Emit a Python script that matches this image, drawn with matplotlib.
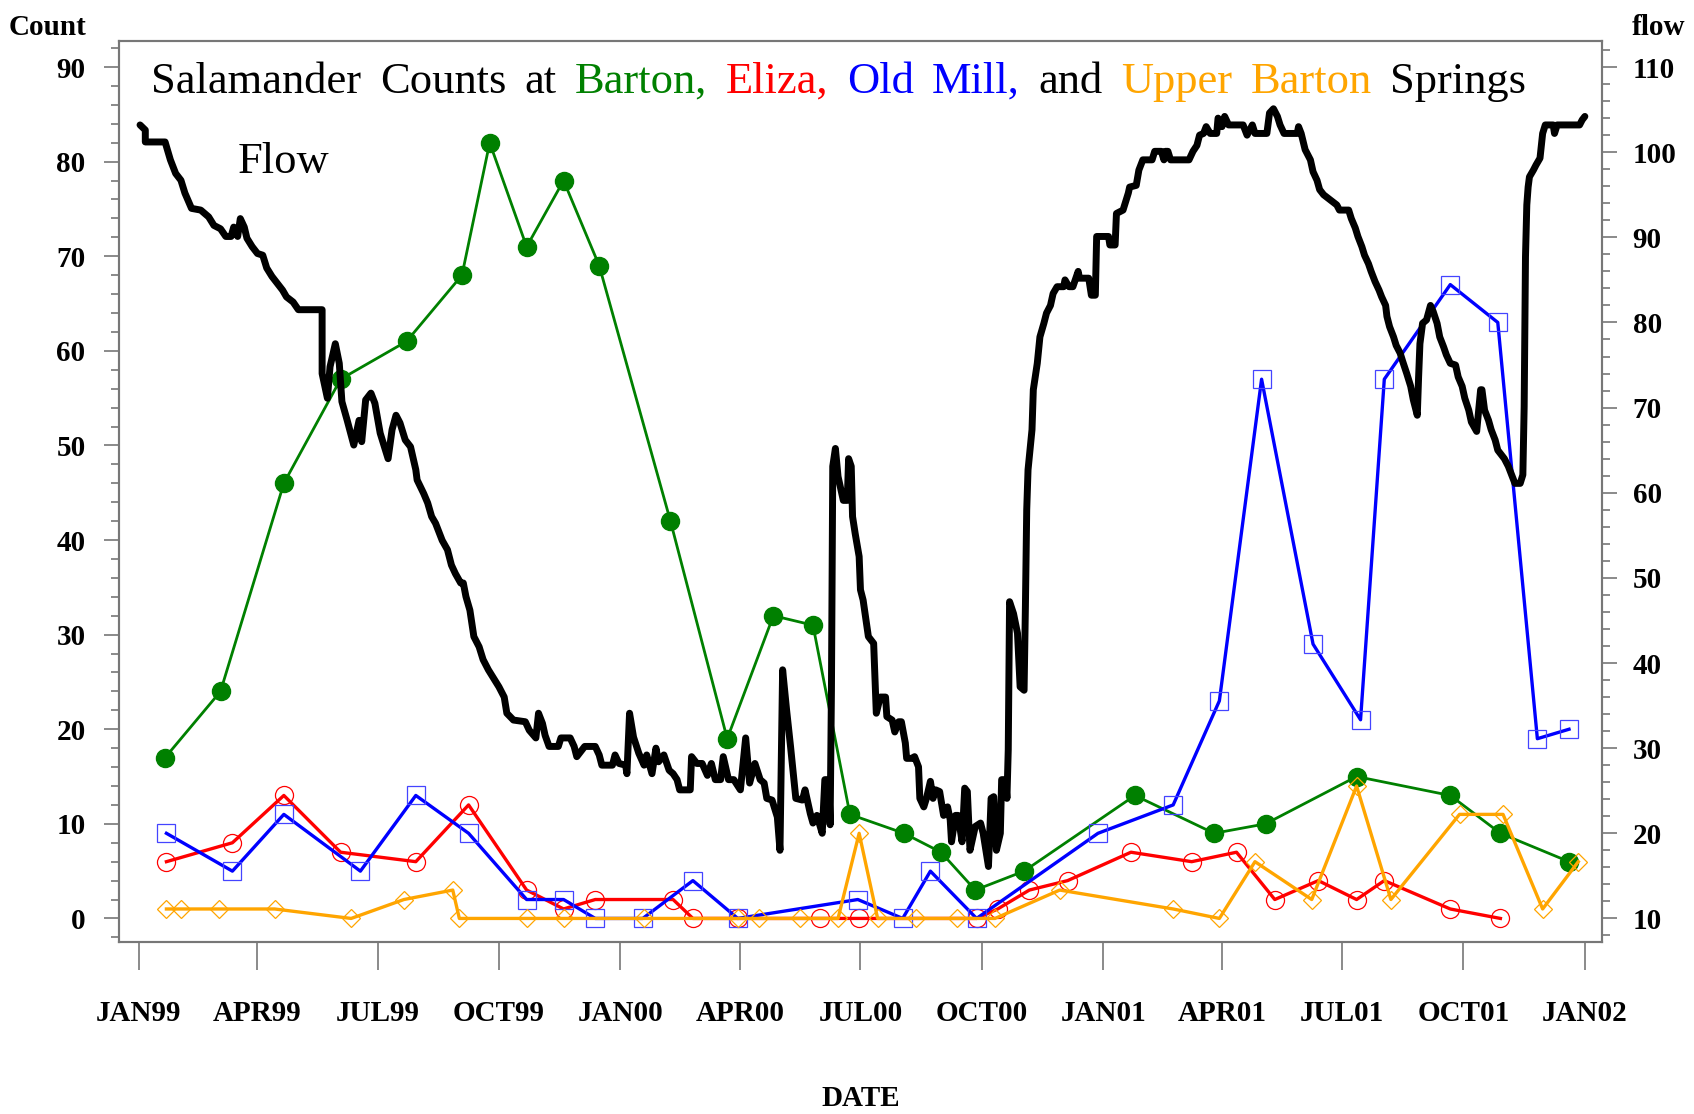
# Salamander counts at four springs with spring flow on a second axis

import matplotlib
matplotlib.use('Agg')
import matplotlib.pyplot as plt
import matplotlib.dates as mdates
from matplotlib.ticker import MultipleLocator, FuncFormatter
import pandas as pd

plt.rcParams['font.family'] = ['Liberation Serif', 'DejaVu Serif']

start = pd.Timestamp('1999-01-01')   # days below count from this date

# Barton Springs (green, filled circles)
barton_day = [20, 62, 110, 153, 203, 245, 266, 294, 322, 349, 403, 446, 481,
              511, 539, 580, 608, 634, 671, 755, 815, 854, 923, 994, 1032, 1084]
barton = [17, 24, 46, 57, 61, 68, 82, 71, 78, 69, 42, 19, 32,
          31, 11, 9, 7, 3, 5, 13, 9, 10, 15, 13, 9, 6]

# Eliza Spring (red, open circles)
eliza_day = [21, 71, 110, 153, 210, 250, 294, 322, 346, 405, 420, 454, 516, 546,
             635, 651, 675, 704, 752, 798, 832, 861, 894, 923, 944, 994, 1032]
eliza = [6, 8, 13, 7, 6, 12, 3, 1, 2, 2, 0, 0, 0, 0,
         0, 1, 3, 4, 7, 6, 7, 2, 4, 2, 4, 1, 0]

# Old Mill Spring (blue, open squares)
oldmill_day = [21, 71, 110, 168, 210, 250, 294, 322, 346, 382, 420, 454, 545, 579,
               600, 635, 727, 784, 819, 851, 890, 926, 944, 994, 1030, 1060, 1084]
oldmill = [9, 5, 11, 5, 13, 9, 2, 2, 0, 0, 4, 0, 2, 0,
           5, 0, 9, 12, 23, 57, 29, 21, 57, 67, 63, 19, 20]

# Upper Barton Spring (orange, open diamonds)
upper_day = [21, 32, 61, 103, 161, 201, 238, 243, 294, 322, 383, 454, 470, 501, 530, 546,
             560, 589, 620, 649, 698, 784, 819, 846, 889, 923, 949, 1001, 1034, 1064, 1091]
upper = [1, 1, 1, 1, 0, 2, 3, 0, 0, 0, 0, 0, 0, 0, 0, 9,
         0, 0, 0, 0, 3, 1, 0, 6, 2, 14, 2, 11, 11, 1, 6]

# flow readings (day, flow)
flow = [(1, 103.2), (5, 102.6), (5, 101.2), (20, 101.2), (24, 99.1), (28, 97.5), (32, 96.7),
        (35, 95.2), (40, 93.4), (47, 93.2), (53, 92.4), (57, 91.4), (62, 91.0), (66, 90.1),
        (70, 90.1), (72, 91.2), (75, 90.1), (77, 92.2), (80, 91.2), (82, 89.9), (86, 88.9),
        (90, 88.1), (94, 87.9), (97, 86.4), (101, 85.4), (105, 84.6), (109, 83.8), (112, 83.0),
        (117, 82.4), (121, 81.5), (139, 81.5), (139, 74.0), (143, 71.1), (145, 74.8), (149, 77.5),
        (152, 75.2), (154, 70.7), (158, 68.5), (163, 65.6), (167, 68.5), (169, 66.0), (172, 70.9),
        (176, 71.7), (179, 70.5), (183, 67.0), (189, 64.0), (192, 67.4), (195, 69.1), (198, 68.2),
        (202, 66.2), (206, 65.4), (210, 62.7), (211, 61.5), (216, 59.9), (219, 58.8), (222, 57.2),
        (225, 56.4), (230, 54.4), (234, 53.3), (237, 51.5), (240, 50.5), (244, 49.4), (246, 49.4),
        (248, 47.8), (251, 46.2), (254, 43.1), (258, 41.9), (261, 40.4), (265, 39.2), (269, 38.2),
        (273, 37.2), (277, 36.0), (279, 34.1), (284, 33.3), (293, 33.1), (296, 32.1), (301, 31.2),
        (303, 34.1), (306, 32.9), (308, 31.5), (311, 30.2), (318, 30.2), (320, 31.2), (327, 31.2),
        (330, 30.2), (332, 29.0), (338, 30.2), (346, 30.2), (349, 29.2), (351, 28.0), (359, 28.0),
        (361, 29.2), (364, 28.2), (369, 28.0), (370, 27.0), (372, 34.1), (375, 31.3), (379, 29.4),
        (383, 28.0), (385, 29.2), (389, 27.0), (392, 30.0), (394, 28.4), (398, 29.2), (402, 27.4),
        (405, 27.0), (408, 26.3), (410, 25.1), (418, 25.1), (419, 29.0), (423, 28.2), (427, 28.2),
        (431, 26.8), (434, 28.2), (437, 26.3), (441, 26.3), (443, 29.0), (447, 26.3), (451, 26.3),
        (456, 25.1), (460, 31.2), (463, 25.9), (467, 28.2), (471, 26.3), (474, 25.9), (476, 24.1),
        (480, 23.9), (484, 21.9), (486, 18.0), (488, 39.2), (491, 34.5), (494, 30.2), (498, 24.1),
        (503, 23.9), (505, 25.1), (509, 22.3), (511, 21.2), (514, 22.1), (518, 20.0), (520, 26.3),
        (523, 26.3), (524, 21.0), (525, 36.8), (526, 63.1), (528, 65.2), (530, 61.9), (534, 59.1),
        (537, 59.1), (538, 64.0), (540, 63.1), (541, 57.2), (543, 55.2), (546, 52.5), (547, 48.6),
        (549, 47.4), (553, 43.1), (557, 42.3), (559, 34.1), (562, 36.0), (566, 36.0), (567, 33.7),
        (571, 33.3), (573, 31.9), (576, 33.1), (578, 33.1), (581, 30.6), (582, 28.8), (586, 28.8),
        (588, 29.0), (591, 27.8), (592, 24.1), (595, 23.1), (597, 24.1), (600, 26.1), (602, 24.1),
        (604, 25.1), (607, 24.9), (610, 22.1), (613, 23.1), (615, 21.6), (616, 19.0), (619, 22.1),
        (621, 22.1), (624, 19.0), (626, 25.3), (628, 24.9), (630, 18.0), (634, 20.8), (638, 21.2),
        (640, 20.0), (644, 16.1), (646, 24.1), (648, 24.3), (650, 18.0), (653, 20.0), (654, 26.3),
        (657, 26.3), (658, 24.1), (659, 29.8), (660, 47.2), (663, 45.8), (666, 43.5), (668, 37.2),
        (671, 36.8), (672, 46.6), (673, 58.0), (674, 62.7), (677, 67.4), (678, 72.1), (681, 75.2),
        (683, 78.3), (686, 79.9), (688, 81.1), (691, 82.0), (693, 83.4), (696, 84.2), (701, 84.2),
        (702, 85.0), (705, 84.2), (708, 84.2), (712, 86.0), (713, 85.2), (720, 85.2), (722, 83.2),
        (725, 83.2), (726, 90.1), (735, 90.1), (736, 89.1), (740, 89.1), (741, 92.8), (746, 93.2),
        (748, 94.2), (750, 95.2), (751, 95.9), (756, 96.1), (758, 97.9), (761, 99.1), (768, 99.1),
        (770, 100.1), (775, 100.1), (777, 99.1), (778, 100.1), (780, 100.1), (782, 99.1),
        (796, 99.1), (799, 100.1), (802, 100.8), (804, 102.0), (807, 102.2), (809, 103.0),
        (812, 102.2), (817, 102.2), (818, 104.0), (821, 103.0), (823, 104.2), (826, 103.2),
        (837, 103.2), (840, 102.0), (844, 103.2), (846, 102.2), (855, 102.2), (857, 104.6),
        (860, 105.1), (863, 104.2), (865, 103.2), (868, 102.2), (878, 102.2), (879, 103.0),
        (881, 102.2), (884, 100.3), (888, 99.1), (890, 97.7), (893, 96.7), (895, 95.6), (898, 95.0),
        (903, 94.4), (908, 93.8), (910, 93.2), (917, 93.2), (919, 92.2), (922, 91.1), (924, 90.1),
        (927, 88.9), (929, 87.9), (932, 86.9), (934, 86.0), (937, 84.8), (940, 83.8), (942, 83.0),
        (945, 82.0), (946, 80.7), (948, 79.5), (951, 78.3), (953, 77.3), (956, 76.4), (958, 75.4),
        (961, 74.0), (964, 72.5), (966, 70.9), (969, 69.1), (970, 73.6), (971, 77.5), (973, 79.9),
        (976, 80.3), (979, 82.0), (981, 81.3), (984, 79.9), (986, 78.3), (989, 77.1), (991, 76.2),
        (994, 75.2), (998, 75.0), (1000, 73.6), (1003, 72.5), (1005, 71.1), (1008, 69.7),
        (1010, 68.3), (1014, 67.2), (1017, 72.1), (1018, 72.1), (1020, 69.7), (1023, 68.5),
        (1025, 67.4), (1028, 66.2), (1030, 65.0), (1033, 64.4), (1035, 64.0), (1038, 63.1),
        (1041, 61.9), (1043, 61.1), (1047, 61.1), (1049, 62.1), (1050, 70.1), (1051, 87.7),
        (1052, 93.8), (1053, 95.9), (1054, 97.1), (1057, 97.9), (1059, 98.5), (1062, 99.3),
        (1063, 100.8), (1064, 102.2), (1066, 103.2), (1072, 103.2), (1073, 102.2), (1075, 103.2),
        (1092, 103.2), (1094, 103.8), (1096, 104.2)]

# title words and their colours
title_words = ['Salamander', 'Counts', 'at', 'Barton,', 'Eliza,', 'Old', 'Mill,',
               'and', 'Upper', 'Barton', 'Springs']
title_colors = ['black', 'black', 'black', 'green', 'red', 'blue', 'blue',
                'black', 'orange', 'orange', 'black']


def to_dates(days):
    return start + pd.to_timedelta(days, unit='D')


fig = plt.figure(figsize=(16.94, 11.14), dpi=100)
ax = fig.add_axes([0.0702, 0.1544, 0.8755, 0.8088])
ax2 = ax.twinx()

ax.plot(to_dates(barton_day), barton, color='green', lw=2, marker='o', ms=13,
        mfc='green', mec='green')
ax.plot(to_dates(eliza_day), eliza, color='red', lw=2.4, marker='o', ms=13,
        mfc='none', mec='red', mew=0.9)
ax.plot(to_dates(oldmill_day), oldmill, color='blue', lw=2.4, marker='s', ms=12.5,
        mfc='none', mec='#4444ff', mew=0.9)
ax.plot(to_dates(upper_day), upper, color='orange', lw=2.4, marker='D', ms=9,
        mfc='none', mec='orange', mew=0.9)

flow_day = [p[0] for p in flow]
flow_cfs = [p[1] for p in flow]
ax2.plot(to_dates(flow_day), flow_cfs, color='black', lw=5,
         solid_joinstyle='round', solid_capstyle='round')

ax.set_xlim(pd.Timestamp('1998-12-17'), pd.Timestamp('2002-01-14'))
ax.set_ylim(-2.49, 92.75)
ax2.set_ylim(7.23, 113.06)

ax.xaxis.set_major_locator(mdates.MonthLocator(bymonth=[1, 4, 7, 10]))
ax.xaxis.set_major_formatter(FuncFormatter(
    lambda v, pos: mdates.num2date(v).strftime('%b%y').upper()))
ax.yaxis.set_major_locator(MultipleLocator(10))
ax.yaxis.set_minor_locator(MultipleLocator(2))
ax2.yaxis.set_major_locator(MultipleLocator(10))
ax2.yaxis.set_minor_locator(MultipleLocator(2))

frame = '#777777'
for a in (ax, ax2):
    for s in a.spines.values():
        s.set_color(frame)
        s.set_linewidth(1.5)

ax.tick_params(axis='x', length=20, width=1.2, color=frame, pad=22,
               labelsize=21)
ax.tick_params(axis='y', which='major', length=11, width=1.2, color=frame,
               pad=13, labelsize=21)
ax.tick_params(axis='y', which='minor', length=6, width=1.2, color=frame)
ax2.tick_params(axis='y', which='major', length=11, width=1.2, color=frame,
                pad=11, labelsize=21)
ax2.tick_params(axis='y', which='minor', length=6, width=1.2, color=frame)
for lab in ax.get_xticklabels() + ax.get_yticklabels() + ax2.get_yticklabels():
    lab.set_fontweight('bold')

# title: words laid side by side, each in its own colour
renderer = fig.canvas.get_renderer()
ax_w = ax.get_window_extent(renderer).width
x = 0.0219
gap = 0.0124
for word, col in zip(title_words, title_colors):
    t = ax.text(x, 0.9424, word, color=col, fontsize=32, ha='left',
                va='baseline', transform=ax.transAxes)
    x += t.get_window_extent(renderer).width / ax_w + gap

ax.text(0.1107, 0.8537, 'Flow', fontsize=32, ha='center', va='baseline',
        transform=ax.transAxes)

fig.text(0.0051, 0.969, 'Count', fontsize=21, fontweight='bold', ha='left',
         va='baseline')
fig.text(0.9948, 0.969, 'flow', fontsize=21, fontweight='bold', ha='right',
         va='baseline')
fig.text(0.508, 0.0135, 'DATE', fontsize=21, fontweight='bold', ha='center',
         va='center')

fig.savefig('out.png', dpi=100)
